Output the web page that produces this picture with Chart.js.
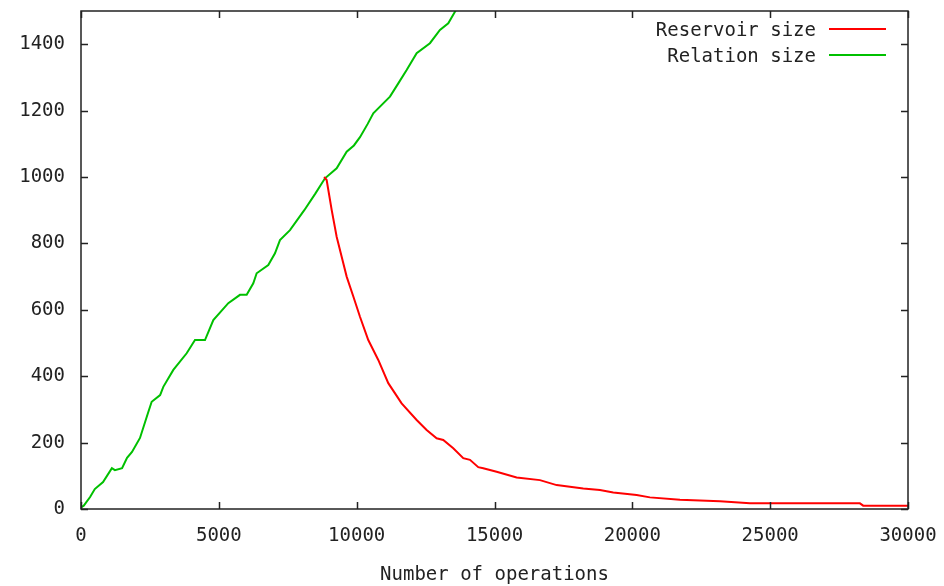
<!DOCTYPE html>
<html>
<head>
<meta charset="utf-8">
<script src="https://cdn.jsdelivr.net/npm/chart.js@4/dist/chart.umd.min.js"></script>
<style>
  html, body { margin: 0; padding: 0; background: #fff; }
  canvas { display: block; }
</style>
</head>
<body>
<canvas id="chart" width="944" height="586"></canvas>
<script>
// ---- data ----
const relationOps = [0, 100, 330, 500, 800, 1120, 1230, 1490, 1670, 1850, 2140, 2430, 2564, 2870, 2986,
  3349, 3833, 4135, 4498, 4800, 5343, 5767, 6010, 6250, 6372, 6794, 7037, 7218, 7581, 8100, 8500,
  8850, 9274, 9637, 9900, 10120, 10400, 10603, 11208, 11510, 11813, 12176, 12658, 13021, 13323, 13565, 13700];
const relationSize = [5, 10, 36, 60, 81, 123, 117, 123, 154, 172, 214, 289, 323, 343, 368,
  419, 469, 509, 509, 569, 620, 645, 645, 680, 710, 735, 770, 810, 840, 900, 950,
  996, 1026, 1076, 1095, 1120, 1160, 1192, 1242, 1282, 1322, 1373, 1403, 1443, 1463, 1498, 1515];

const reservoirOps = [8820, 8911, 9093, 9274, 9456, 9637, 9879, 10120, 10421, 10784, 11147, 11631,
  12176, 12538, 12901, 13141, 13504, 13867, 14110, 14411, 14592, 15077, 15803, 16649, 17254, 18219,
  18825, 19308, 20156, 20638, 21727, 23178, 24266, 28256, 28375, 30000];
const reservoirSize = [1000, 991, 901, 820, 760, 700, 640, 579, 509, 449, 379, 318,
  268, 238, 213, 208, 183, 153, 148, 126, 123, 112, 95, 87, 72, 62,
  57, 50, 42, 35, 28, 23, 17, 17, 10, 10];

const xTicks = [0, 5000, 10000, 15000, 20000, 25000, 30000];
const yTicks = [0, 200, 400, 600, 800, 1000, 1200, 1400];

const FONT = { family: "'DejaVu Sans Mono', monospace", size: 19 };
const INK = "#222";

const pts = (xs, ys) => xs.map((x, i) => ({ x, y: ys[i] }));

// keep label overhang from eating into the plot box
function noPad(s) {
  s.paddingTop = 0; s.paddingBottom = 0; s.paddingLeft = 0; s.paddingRight = 0;
}

// gnuplot-like frame with inward, mirrored ticks, plus key at top right
const framePlugin = {
  id: "frame",
  afterDatasetsDraw(chart) {
    const c = chart.ctx;
    const a = chart.chartArea;
    const sx = chart.scales.x, sy = chart.scales.y;
    const tl = 7;
    c.save();
    c.strokeStyle = INK;
    c.lineWidth = 1.5;
    c.strokeRect(a.left, a.top, a.right - a.left, a.bottom - a.top);
    c.beginPath();
    xTicks.forEach(v => {
      const px = Math.round(sx.getPixelForValue(v)) + 0.5;
      c.moveTo(px, a.bottom); c.lineTo(px, a.bottom - tl);
      c.moveTo(px, a.top); c.lineTo(px, a.top + tl);
    });
    yTicks.forEach(v => {
      const py = Math.round(sy.getPixelForValue(v)) + 0.5;
      c.moveTo(a.left, py); c.lineTo(a.left + tl, py);
      c.moveTo(a.right, py); c.lineTo(a.right - tl, py);
    });
    c.stroke();

    // key
    c.font = `${FONT.size}px ${FONT.family}`;
    c.textAlign = "right";
    c.textBaseline = "middle";
    chart.data.datasets.forEach((ds, i) => {
      const y = 30 + i * 26;
      c.fillStyle = INK;
      c.fillText(ds.label, a.right - 92, y + 1);
      c.strokeStyle = ds.borderColor;
      c.lineWidth = 2;
      c.beginPath();
      c.moveTo(a.right - 79, y - 1);
      c.lineTo(a.right - 22, y - 1);
      c.stroke();
    });
    c.restore();
  }
};

new Chart(document.getElementById("chart"), {
  type: "line",
  data: {
    datasets: [
      {
        label: "Reservoir size",
        data: pts(reservoirOps, reservoirSize),
        borderColor: "#ff0000",
        borderWidth: 2,
        pointRadius: 0,
        tension: 0
      },
      {
        label: "Relation size",
        data: pts(relationOps, relationSize),
        borderColor: "#00c000",
        borderWidth: 2,
        pointRadius: 0,
        tension: 0
      }
    ]
  },
  options: {
    responsive: false,
    animation: false,
    layout: { padding: { top: 11, right: 36, left: 0, bottom: 0 } },
    plugins: { legend: { display: false }, tooltip: { enabled: false } },
    scales: {
      x: {
        type: "linear",
        min: 0,
        max: 30000,
        afterBuildTicks: s => { s.ticks = xTicks.map(value => ({ value })); },
        afterFit: s => { s.height = 77; noPad(s); },
        ticks: { font: FONT, color: INK, padding: 16, maxRotation: 0, autoSkip: false, callback: v => String(v) },
        grid: { display: false, drawTicks: false },
        border: { display: false },
        title: { display: true, text: "Number of operations", font: FONT, color: INK, padding: 0 }
      },
      y: {
        min: 0,
        max: 1500,
        afterBuildTicks: s => { s.ticks = yTicks.map(value => ({ value })); },
        afterFit: s => { s.width = 81; noPad(s); },
        ticks: { font: FONT, color: INK, padding: 16, callback: v => String(v) },
        grid: { display: false, drawTicks: false },
        border: { display: false }
      }
    }
  },
  plugins: [framePlugin]
});
</script>
</body>
</html>
